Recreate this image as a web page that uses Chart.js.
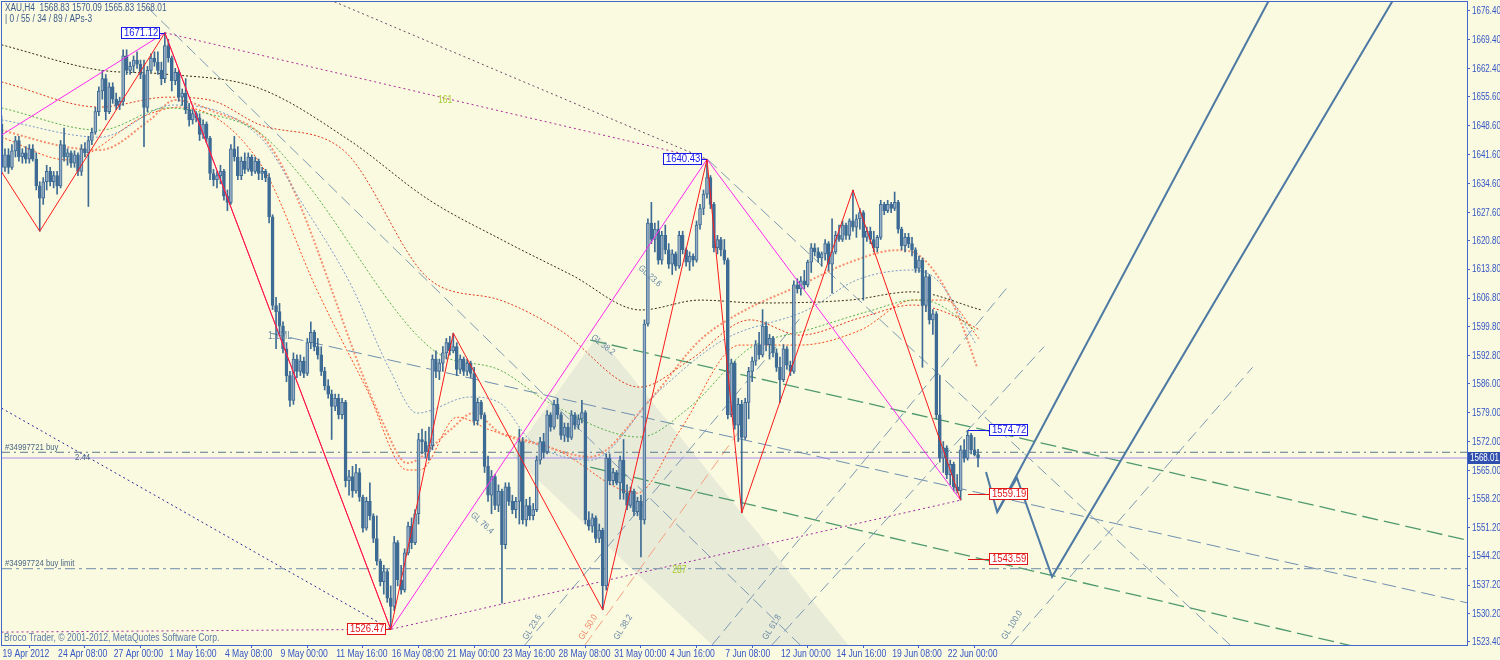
<!DOCTYPE html>
<html><head><meta charset="utf-8">
<script src="https://cdn.jsdelivr.net/npm/chart.js@4.4.1/dist/chart.umd.min.js"></script>
<style>
html,body{margin:0;padding:0;background:#fafae0;overflow:hidden;}
#wrap{width:1500px;height:660px;position:relative;}
canvas{display:block;}
</style></head><body>
<div id="wrap"><canvas id="c" width="1500" height="660"></canvas></div>
<script>
// ---------------- DATA ----------------
const opens=[1649,1638.5,1641.5,1638.5,1642.5,1645,1641,1642,1640.5,1643,1640.5,1634,1631,1635,1637.5,1635,1636.5,1634,1644,1641,1642,1639.5,1641.5,1637.5,1643,1642,1645,1647,1652,1657,1660,1652,1658,1655,1653.5,1654.5,1665.5,1662,1663,1664.5,1663.5,1661,1653,1662,1665,1664,1662,1660,1668,1665,1659.5,1661.5,1655.5,1656.5,1652.5,1650,1651.5,1650.5,1646.5,1649,1645.5,1637,1635.5,1636.5,1637.5,1631.5,1630,1643,1641,1636.5,1640,1638,1641,1637.5,1640,1637,1637.5,1636,1626.5,1605,1603.5,1600,1594.5,1588,1582,1592,1589,1591.5,1588.5,1596,1598.5,1595,1593,1589,1585.5,1583.5,1580.5,1582.5,1578.5,1581.5,1562.5,1563.5,1560,1564.5,1558.5,1551,1557.5,1554,1548.5,1543,1538,1540.5,1534,1532,1547.5,1538.5,1536,1545,1551.5,1547.5,1554.5,1572.5,1572,1569.5,1571,1592,1589,1591,1593.5,1596,1594,1595,1589.5,1592,1589,1591,1588.5,1577,1581.5,1578.5,1566,1559,1563.5,1556.5,1560,1547,1561,1557.5,1555.5,1557.5,1572,1553,1556.5,1554,1555.5,1567.5,1572,1569.5,1578.5,1575.5,1581,1578.5,1573.5,1575.5,1573,1578.5,1576,1577.5,1579,1553,1551.5,1553.5,1548.5,1550.5,1537,1568,1562.5,1564.5,1562,1567.5,1559.5,1556.5,1560,1555,1557.5,1553,1600.5,1625,1621,1623.5,1616,1622,1618.5,1615,1617.5,1614.5,1622,1618.5,1615.5,1617,1616,1624.5,1628.5,1632,1636,1629.5,1619,1621,1618.5,1616,1578.5,1591,1576,1581,1573,1581.5,1589,1591.5,1595.5,1593,1600,1595.5,1597,1593.5,1590,1587,1594.5,1590.5,1589,1610,1609,1611,1610,1615.5,1619,1618,1616.5,1617.5,1620,1615,1618,1622,1621,1624.5,1622,1625.5,1624,1626,1627.5,1621.5,1623,1621,1619,1621.5,1629.5,1628,1629.5,1628.5,1630,1623.5,1619.5,1621.5,1620,1618.5,1614,1616,1605,1612,1601.5,1603,1578.5,1568,1570.5,1564,1566.5,1561,1560,1570,1568,1573.5,1570,1568.83];
const highs=[1651,1643,1643,1644,1646,1646,1643,1643.5,1644,1644,1642,1635,1636,1639,1638.5,1637.5,1637.5,1645,1648,1643,1642.5,1642.5,1642,1644,1644.5,1646,1648,1653,1658,1662,1661,1659,1659,1656.5,1655.5,1667,1667,1664,1665.5,1666.5,1664.5,1664.5,1663,1666,1666.5,1666.5,1664,1671.12,1669.5,1665.5,1662.5,1662,1657.5,1660,1654,1652.5,1652,1651.5,1650,1649.5,1646,1638,1637.5,1639,1638,1633,1644,1646,1643.5,1641,1642,1642,1641.5,1641,1640.5,1638.5,1638,1637,1627,1607,1605.5,1601,1596,1589,1593.5,1593,1593,1592.5,1597,1601,1599,1597,1595,1590,1587,1584.5,1583.5,1583.5,1582.5,1582,1565,1566,1566.5,1565.5,1559,1558.5,1562,1554.5,1554,1543.5,1542,1541,1537,1549,1548,1542,1546,1552.5,1553.5,1555.5,1574,1575,1574.5,1575.5,1593,1594,1592,1595,1597,1597.5,1598.3,1596,1593,1592.5,1592,1591.5,1590,1582.5,1582,1579,1568.5,1565,1564,1561.5,1560.5,1562,1562,1559,1558.5,1575,1573,1558,1558.5,1557,1568.5,1573,1574,1579.5,1579,1582,1582.5,1579,1576.5,1576.5,1579.5,1579,1578.5,1582,1579.5,1555,1554.5,1554,1552,1551,1569,1569,1565.5,1565,1568.5,1572.5,1561.5,1561,1560.5,1558.5,1559,1601.5,1626,1630,1625,1625.5,1623,1624.5,1620,1618.5,1618,1623,1623,1619,1618,1617.5,1625.5,1629.5,1633,1640.43,1636.5,1630,1622,1621.5,1621,1616.5,1592,1591.5,1582.5,1582,1582.5,1590,1592.5,1596.5,1598.5,1604,1601,1598,1597.5,1594.5,1592.5,1595.5,1595,1591.5,1611,1611.5,1612,1613.5,1616,1620,1620,1619,1618,1621,1620.5,1626,1623,1624.5,1625.5,1625,1626,1633,1627,1628.5,1628,1624,1624,1623,1622,1630.5,1630,1630.5,1630,1632.5,1630.5,1624,1622.5,1622.5,1621.5,1619,1617,1616.5,1613.5,1612.5,1604,1603.5,1588,1572,1571,1567.5,1567,1564,1571,1572.5,1574.72,1574,1573,1570.09];
const lows=[1637,1637.5,1637,1638,1641,1640,1639.5,1639.5,1639.5,1640,1633,1623,1629.5,1633,1634,1633.5,1632,1633.5,1640,1639,1638.5,1638.5,1636.5,1636.5,1641,1629,1644,1646.5,1651,1655,1650,1651.5,1654,1652.5,1652.5,1653.5,1661,1661,1661.5,1662.5,1660,1643.5,1652,1661.5,1663,1661,1658.5,1659,1664,1657,1658.5,1654.5,1653.5,1651.5,1648.5,1649,1649.5,1645,1645.5,1644.5,1635.5,1634,1633.5,1634.5,1630.5,1628,1629.5,1640,1635.5,1635.5,1637,1637.5,1636.5,1637,1635.5,1635.5,1635,1625,1604,1594.5,1598,1593.5,1586.5,1580.5,1581,1587.5,1588,1587.5,1588,1594.5,1594,1592,1588,1584.5,1582.5,1572.5,1579.5,1577.5,1577.5,1561,1559,1558.5,1559.5,1557.5,1550,1550.5,1553,1547.5,1542,1537,1535,1533,1526.47,1531,1537,1535,1535.5,1544.5,1546,1547,1552,1569,1568,1567.5,1570,1587.5,1587,1589,1592,1593,1593.5,1588,1588.5,1588,1588,1587.5,1576,1576,1577.5,1564.5,1557.5,1554.5,1555.5,1555,1532.8,1546,1556.5,1554.5,1553.5,1552,1552,1551.5,1553,1553,1555,1566.5,1568,1569,1574.5,1575,1577.5,1572.5,1572,1572,1572.5,1575,1575,1576.5,1552,1550.5,1550,1547.5,1547.5,1531.2,1536,1561.5,1561.5,1561.5,1558,1558,1555.5,1556,1554,1554,1544,1552,1600,1620,1618,1615,1615,1617.5,1614,1612.5,1613.5,1614,1617.5,1614.5,1613.5,1614.5,1615.5,1623.5,1627,1631,1628.5,1618,1617.5,1617,1615,1577.5,1578,1575,1572,1554.7,1572.5,1577.5,1586.5,1590.5,1592,1592.5,1594,1592,1592.5,1589,1581.5,1586.5,1589.5,1588,1588.5,1608,1607.5,1609,1609.5,1613,1617,1615.5,1614.5,1616,1613.5,1608,1617.5,1620.5,1620.5,1621,1621,1623,1621.5,1623.5,1606.3,1620.5,1620,1618,1618,1621,1627,1627.5,1627.5,1628,1622.5,1618.5,1618,1619,1617,1613,1613,1590,1603.5,1600.5,1598,1577.5,1567,1564.5,1563,1561.5,1560,1559.5,1557.8,1567,1567.5,1569,1568.5,1565.83];
const closes=[1638.5,1641.5,1638.5,1642.5,1645,1641,1642,1640.5,1643,1640.5,1634,1631,1635,1637.5,1635,1636.5,1634,1644,1641,1642,1639.5,1641.5,1637.5,1643,1642,1645,1647,1652,1657,1660,1652,1658,1655,1653.5,1654.5,1665.5,1662,1663,1664.5,1663.5,1661,1653,1662,1665,1664,1662,1660,1668,1665,1659.5,1661.5,1655.5,1656.5,1652.5,1650,1651.5,1650.5,1646.5,1649,1645.5,1637,1635.5,1636.5,1637.5,1631.5,1630,1643,1641,1636.5,1640,1638,1641,1637.5,1640,1637,1637.5,1636,1626.5,1605,1603.5,1600,1594.5,1588,1582,1592,1589,1591.5,1588.5,1596,1598.5,1595,1593,1589,1585.5,1583.5,1580.5,1582.5,1578.5,1581.5,1562.5,1563.5,1560,1564.5,1558.5,1551,1557.5,1554,1548.5,1543,1538,1540.5,1534,1532,1547.5,1538.5,1536,1545,1551.5,1547.5,1554.5,1572.5,1572,1569.5,1571,1592,1589,1591,1593.5,1596,1594,1595,1589.5,1592,1589,1591,1588.5,1577,1581.5,1578.5,1566,1559,1563.5,1556.5,1560,1547,1561,1557.5,1555.5,1557.5,1572,1553,1556.5,1554,1555.5,1567.5,1572,1569.5,1578.5,1575.5,1581,1578.5,1573.5,1575.5,1573,1578.5,1576,1577.5,1579,1553,1551.5,1553.5,1548.5,1550.5,1537,1568,1562.5,1564.5,1562,1567.5,1559.5,1556.5,1560,1555,1557.5,1553,1600.5,1625,1621,1623.5,1616,1622,1618.5,1615,1617.5,1614.5,1622,1618.5,1615.5,1617,1616,1624.5,1628.5,1632,1636,1629.5,1619,1621,1618.5,1616,1578.5,1591,1576,1581,1573,1581.5,1589,1591.5,1595.5,1593,1600,1595.5,1597,1593.5,1590,1587,1594.5,1590.5,1589,1610,1609,1611,1610,1615.5,1619,1618,1616.5,1617.5,1620,1615,1618,1622,1621,1624.5,1622,1625.5,1624,1626,1627.5,1621.5,1623,1621,1619,1621.5,1629.5,1628,1629.5,1628.5,1630,1623.5,1619.5,1621.5,1620,1618.5,1614,1616,1605,1612,1601.5,1603,1578.5,1568,1570.5,1564,1566.5,1561,1560,1570,1568,1573.5,1570,1568.8,1568.01];

const yTickValues=[1676.40,1669.40,1662.40,1655.60,1648.60,1641.60,1634.60,1627.60,1620.80,1613.80,1606.80,1599.80,1592.80,1586.00,1579.00,1572.00,1565.00,1558.20,1551.20,1544.20,1537.20,1530.20,1523.40];
const xTickBars=[0,16,32,48,64,80,96,112,128,144,160,176,192,208,224,240,256,272];
const xTickLabels=['19 Apr 2012','24 Apr 08:00','27 Apr 00:00','1 May 16:00','4 May 08:00','9 May 00:00','11 May 16:00','16 May 08:00','21 May 00:00','23 May 16:00','28 May 08:00','31 May 00:00','4 Jun 16:00','7 Jun 08:00','12 Jun 00:00','14 Jun 16:00','19 Jun 08:00','22 Jun 00:00'];

// moving averages (bar index, price)
const maBlackX=[0,28,47,74,100,123,144,164,184,201,218,244,262,282];
const maBlackY=[1668.2,1662.1,1661.1,1657.7,1645.1,1630.6,1620.9,1612.4,1603.9,1606.3,1605.6,1606.3,1608.3,1603.9];
const maRedX=[0,28.3,47.6,60,74.4,98.3,123.3,143.5,160.7,183.7,198.1,215.4,229.8,247.1,262.3,271.5,281.6];
const maRedY=[1659.2,1653.1,1655.5,1654.8,1648.8,1642.7,1611.2,1606.3,1599.0,1585.2,1591.8,1601.5,1597.8,1602.0,1605.1,1603.4,1599.0];
const maGreenX=[0,28.3,47.6,57.1,74.4,85.9,124.2,143.5,157.8,183.7,198.1,215.4,231.8,250.8,262.3,268.7,280.2];
const maGreenY=[1652.9,1647.5,1652.9,1651.9,1646.8,1636.6,1594.2,1589.3,1581.3,1573.1,1580.4,1594.7,1599.0,1603.9,1606.3,1605.6,1599.0];
const maBlueX=[0,28.3,49.4,74.4,85.9,100.3,111.8,119.6,134.8,143.5,152.1,169.4,188.6,207.6,231.8,246.2,262.3,270.1,280.2];
const maBlueY=[1650.0,1645.8,1653.6,1645.8,1630.6,1610.4,1589.3,1578.9,1582.8,1581.3,1572.4,1567.5,1583.8,1596.6,1603.9,1611.2,1613.6,1610.4,1595.9];
const maSalmonX=[0,18.9,28.3,42.7,49.9,60,78.1,109.8,116.7,129.1,135.7,143.5,155.0,169.4,186.6,201.0,212.5,229.8,244.2,257.7,262.9,270.1,275.8,280.7];
const maSalmonY=[1647.5,1643.4,1642.7,1650.0,1654.8,1652.4,1642.7,1576.5,1566.8,1574.8,1578.9,1574.1,1571.2,1568.3,1582.1,1596.6,1603.2,1609.9,1615.5,1618.4,1617.7,1611.2,1601.5,1590.1];
const maFastX=[0,18.9,41.9,51.4,74.4,90.8,105.2,116.7,120.4,131.1,140.6,159.9,182.9,195.3,212.5,229.8,247.1,262.3,271.5,281.6];
const maFastY=[1645.8,1640.3,1651.2,1653.1,1639.5,1608.7,1584.5,1565.1,1565.1,1577.9,1574.8,1569.9,1559.5,1574.8,1595.4,1595.4,1599.0,1606.3,1606.3,1596.6];

// zigzags (bar index, price)
const zzRedX=[0,11,47,112,130,173,203,213,245,276];
const zzRedY=[1637.4,1623,1671.12,1526.47,1598.3,1531.2,1640.43,1554.7,1633,1557.8];
const zzMagX=[0,47,112,203,276];
const zzMagY=[1646.3,1671.12,1526.47,1640.43,1557.8];

// trend / channel lines (bar index, price)
const peakLineX=[47,203], peakLineY=[1671.12,1640.43];
const topLineX=[94.5,203], topLineY=[1679.1,1640.43];
const lowLineX=[0,112,276], lowLineY=[1525.8,1526.47,1557.8];
const navyLineX=[0,112], navyLineY=[1580.1,1526.47];
const mlLineX=[77.3,421.7], mlLineY=[1598.3,1532.9];
const green1X=[169.4,421.7], green1Y=[1596.6,1548.1];
const green2X=[169.4,421.7], green2Y=[1565.8,1515.9];
const gray1X=[42.2,229.8], gray1Y=[1677.1,1522.7];
const gray2X=[203.3,353.5], gray2Y=[1640.3,1522.7];
const upLinesX=[[150.6,229.8],[204.5,290.0],[221.7,300.0],[290.4,360.0]];
const upLinesY=[[1522.7,1601.9],[1522.7,1610.0],[1522.7,1595.0],[1522.7,1590.0]];
const salmonUpX=[167.9,212.5], salmonUpY=[1522.7,1574.8];
const shadeTopX=[146.9,171.7,243.6], shadeTopY=[1568.7,1597.8,1522.7];
const shadeBotX=[146.9,204.5,243.6], shadeBotY=[1568.7,1522.7,1522.7];

// forecast projection (bar index, price)
const fcX=[283.3,286.5,292.2,302.3,402.5], fcY=[1564.6,1554.9,1563.2,1539.2,1682];
const fc2X=[286.5,366.6], fc2Y=[1554.9,1682];

// order / price levels
const bidPrice=1568.01, buyPrice=1569.4, buyLimitPrice=1541.2;
const tagsLeft=[[47,1671.12,'1671.12','#1a1ae6'],[203,1640.43,'1640.43','#1a1ae6'],[112,1526.47,'1526.47','#e01818']];
const tagsRight=[[1574.72,'1574.72','#1a1ae6'],[1559.19,'1559.19','#e01818'],[1543.59,'1543.59','#e01818']];
const glLabels=[[138.3,1552.2,'GL 76.4',42,'#6a8aa6'],[173.1,1595.4,'GL 38.2',38,'#6a8aa6'],[186.6,1612.1,'GL 23.6',42,'#6a8aa6'],
  [152.7,1527.0,'GL 23.6',-58,'#6a8aa6'],[168.8,1527.0,'GL 50.0',-58,'#f08868'],[178.9,1527.0,'GL 38.2',-58,'#6a8aa6'],
  [221.7,1527.0,'GL 61.8',-58,'#6a8aa6'],[290.8,1527.5,'GL 100.0',-58,'#6a8aa6']];

// ---------------- BUILD ----------------
const BG='#fafae0', AX='#4466cc', BULL='#98aec4', BEAR='#3e6b94', WICK='#3e6b94';
const N=closes.length, XMIN=0.14, XMAX=421.7, YMIN=1522.67, YMAX=1678.58;
const pts=(xs,ys)=>xs.map((x,k)=>({x:x,y:ys[k]}));
const L=(data,color,o)=>Object.assign({type:'line',data:data,borderColor:color,borderWidth:1,pointRadius:0,fill:false,tension:0,order:30},o||{});
const wick=[],body=[],bodyFill=[];
for(let i=0;i<N;i++){wick.push({x:i,y:[lows[i],highs[i]]});body.push({x:i,y:[opens[i],closes[i]]});bodyFill.push(closes[i]>=opens[i]?BULL:BEAR);}
const ds=[];
ds.push(L(pts(shadeTopX,shadeTopY),'rgba(0,0,0,0)',{borderWidth:0,fill:'+1',backgroundColor:'rgba(175,180,190,0.22)',order:100}));
ds.push(L(pts(shadeBotX,shadeBotY),'rgba(0,0,0,0)',{borderWidth:0,order:101}));
const GRAYL='#7d9ab2';
ds.push(L(pts(gray1X,gray1Y),GRAYL,{borderDash:[12,6],order:90}));
ds.push(L(pts(gray2X,gray2Y),GRAYL,{borderDash:[12,6],order:90}));
upLinesX.forEach((xs,k)=>ds.push(L(pts(xs,upLinesY[k]),GRAYL,{borderDash:[12,6],order:90})));
ds.push(L(pts(salmonUpX,salmonUpY),'#f4a080',{borderDash:[12,6],order:90}));
ds.push(L(pts(mlLineX,mlLineY),'#6f8fb0',{borderDash:[14,6],order:90}));
ds.push(L(pts(green1X,green1Y),'#4f9a6c',{borderDash:[16,6],borderWidth:1.3,order:90}));
ds.push(L(pts(green2X,green2Y),'#4f9a6c',{borderDash:[16,6],borderWidth:1.3,order:90}));
ds.push(L(pts(peakLineX,peakLineY),'#b02a9a',{borderDash:[2,3],order:80}));
ds.push(L(pts(topLineX,topLineY),'#6a4a6a',{borderDash:[2,3],order:80}));
ds.push(L(pts(lowLineX,lowLineY),'#a02aa0',{borderDash:[2,3],order:80}));
ds.push(L(pts(navyLineX,navyLineY),'#2a2a9a',{borderDash:[2,3],order:80}));
ds.push(L([{x:XMIN,y:buyPrice},{x:XMAX,y:buyPrice}],'#5a7890',{borderDash:[8,4,2,4],order:70}));
ds.push(L([{x:XMIN,y:buyLimitPrice},{x:XMAX,y:buyLimitPrice}],'#8aa2b4',{borderDash:[10,4,3,4],borderWidth:1.3,order:70}));
ds.push(L([{x:XMIN,y:bidPrice},{x:XMAX,y:bidPrice}],'#a88cf0',{order:70}));
const MA=(xs,ys,c,w)=>L(pts(xs,ys),c,{borderDash:[2,2],borderWidth:w||1,tension:0.4,cubicInterpolationMode:'monotone',order:60});
ds.push(MA(maBlackX,maBlackY,'#3a2a10'));
ds.push(MA(maRedX,maRedY,'#e23a1e'));
ds.push(MA(maGreenX,maGreenY,'#58b048'));
ds.push(MA(maBlueX,maBlueY,'#7a98c8'));
ds.push(MA(maSalmonX,maSalmonY,'#f59070',2));
ds.push(MA(maFastX,maFastY,'#ff4a18'));
ds.push({type:'bar',data:wick,backgroundColor:WICK,barThickness:1,grouped:false,order:50,minBarLength:1});
ds.push({type:'bar',data:body,backgroundColor:bodyFill,borderColor:BEAR,borderWidth:1,borderSkipped:false,barThickness:3,grouped:false,order:49,minBarLength:1});
ds.push(L(pts(zzMagX,zzMagY),'#ff2af0',{order:12}));
ds.push(L(pts(zzRedX,zzRedY),'#ff1a1a',{order:11}));
ds.push(L(pts(fcX,fcY),'#4d79a3',{borderWidth:2,order:5}));
ds.push(L(pts(fc2X,fc2Y),'#4d79a3',{borderWidth:2,order:5}));

const FONT='"Liberation Sans",Arial,sans-serif';
function ntext(c,t,x,y,size,sx,color,align){c.save();c.font=size+'px '+FONT;c.fillStyle=color;c.textBaseline='middle';c.translate(x,y);c.scale(sx,1);
  c.textAlign=(align==='right')?'right':'left';c.fillText(t,0,0);c.restore();}
const overlay={id:'overlay',
 beforeDraw(ch){const c=ch.ctx;c.save();c.fillStyle=BG;c.fillRect(0,0,ch.width,ch.height);c.restore();},
 afterDraw(ch){
  const c=ch.ctx,a=ch.chartArea,xs=ch.scales.x,ys=ch.scales.y;
  const X=v=>xs.getPixelForValue(v),Y=v=>ys.getPixelForValue(v);
  c.save();
  c.strokeStyle=AX;c.lineWidth=1;c.strokeRect(Math.round(a.left)-0.5,Math.round(a.top)-0.5,Math.round(a.right-a.left)+1,Math.round(a.bottom-a.top)+1);
  yTickValues.forEach(v=>ntext(c,v.toFixed(2),a.right+5,Y(v)+0.5,10,0.8,'#3455c4'));
  xTickBars.forEach((b,k)=>ntext(c,xTickLabels[k],X(b)+1,a.bottom+9,10,0.86,'#3455c4'));
  ntext(c,'XAU,H4  1568.83 1570.09 1565.83 1568.01',5,8,10,0.83,'#3c5c8c');
  ntext(c,'| 0 / 55 / 34 / 89 / APs-3',5,19,10,0.83,'#3c5c8c');
  ntext(c,'Broco Trader, \u00a9 2001-2012, MetaQuotes Software Corp.',4,638,10,0.86,'#5b7aa6');
  ntext(c,'#34997721 buy',5,Y(buyPrice)-5,9,0.86,'#4a6884');
  ntext(c,'2.44',75,Y(bidPrice),9,0.86,'#4a6884');
  ntext(c,'#34997724 buy limit',5,Y(buyLimitPrice)-5,9,0.86,'#4a6884');
  ntext(c,'161',X(125.6),Y(1654.8),10,0.86,'#a8cc30');
  ntext(c,'287',X(193),Y(1540.9),10,0.86,'#a8cc30');
  ntext(c,'1:1ML',X(76.7),Y(1597.6),10,0.86,'#6a8aa6');
  glLabels.forEach(g=>{c.save();c.translate(X(g[0]),Y(g[1]));c.rotate(g[3]*Math.PI/180);c.scale(0.86,1);c.fillStyle=g[4];c.font='9px '+FONT;c.textAlign='center';c.textBaseline='middle';c.fillText(g[2],0,0);c.restore();});
  const TS=10;
  const tw=t=>{c.font=TS+'px '+FONT;return Math.round(c.measureText(t).width*0.95)+5;};
  const box=(bx,py,t,col)=>{const w=tw(t),h=12,top=Math.round(py-h/2);
    c.fillStyle='#ffffff';c.fillRect(bx,top,w,h);c.strokeStyle=col;c.lineWidth=1;c.strokeRect(bx+0.5,top+0.5,w-1,h-1);
    ntext(c,t,bx+3,top+h/2+0.5,TS,0.95,col);};
  tagsLeft.forEach(t=>{const px=X(t[0]),py=Y(t[1]);const w=tw(t[2]);
    c.strokeStyle=t[3];c.beginPath();c.moveTo(px-5,Math.round(py)+0.5);c.lineTo(px,Math.round(py)+0.5);c.stroke();box(Math.round(px-5-w),py,t[2],t[3]);});
  tagsRight.forEach(t=>{const py=Y(t[0]),x0=X(N-1)-10,bx=Math.round(X(N-1)+11);
    c.strokeStyle=t[2];c.beginPath();c.moveTo(x0,Math.round(py)+0.5);c.lineTo(bx,Math.round(py)+0.5);c.stroke();box(bx,py,t[1],t[2]);});
  const by=Math.round(Y(bidPrice));c.fillStyle='#2f4fae';c.fillRect(a.right+1,by-6,33,12);
  ntext(c,bidPrice.toFixed(2),a.right+3,by+0.5,10,0.8,'#ffffff');
  c.restore();
 }};

new Chart(document.getElementById('c'),{
 type:'bar',
 data:{datasets:ds},
 options:{
  responsive:false,animation:false,devicePixelRatio:1,
  layout:{padding:{left:2,top:2,right:0,bottom:0}},
  plugins:{legend:{display:false},tooltip:{enabled:false}},
  events:[],
  scales:{
   x:{type:'linear',min:XMIN,max:XMAX,offset:false,
      afterBuildTicks:s=>{s.ticks=xTickBars.map(v=>({value:v}));},
      afterFit:s=>{s.height=15;},
      grid:{display:true,drawOnChartArea:false,drawTicks:true,tickLength:3,color:AX},
      border:{display:true,color:AX},
      ticks:{display:false}},
   y:{type:'linear',position:'right',min:YMIN,max:YMAX,
      afterBuildTicks:s=>{s.ticks=yTickValues.map(v=>({value:v}));},
      afterFit:s=>{s.width=33;},
      grid:{display:true,drawOnChartArea:false,drawTicks:true,tickLength:3,color:AX},
      border:{display:true,color:AX},
      ticks:{display:false}}
  }
 },
 plugins:[overlay]
});
</script>
</body></html>
